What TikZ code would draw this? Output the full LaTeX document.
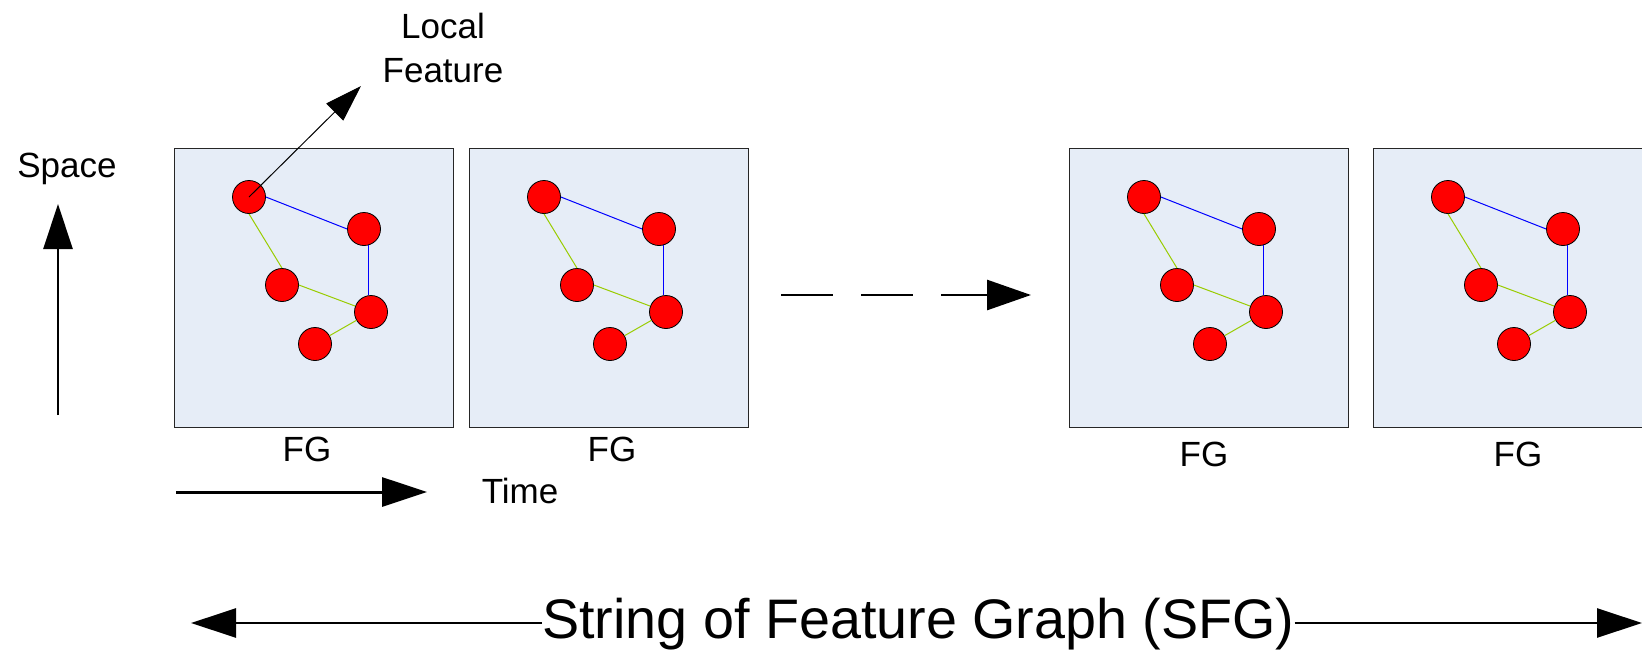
\documentclass[tikz,border=0pt]{standalone}
\usepackage{fontspec}
\setmainfont{Liberation Sans}
\usetikzlibrary{arrows.meta}
\definecolor{boxfill}{RGB}{230,237,247}
\definecolor{edgegreen}{RGB}{153,204,0}
\definecolor{edgeblue}{RGB}{0,0,255}
\definecolor{nodered}{RGB}{255,0,0}
\begin{document}
\begin{tikzpicture}[x=1pt,y=-1pt,
  fgbox/.style={draw=black!85, line width=1pt, fill=boxfill, minimum width=279pt, minimum height=279pt, inner sep=0pt, anchor=north west},
  feat/.style={circle, draw=black, line width=0.8pt, fill=nodered, minimum size=33pt, inner sep=0pt},
  blueedge/.style={draw=edgeblue, line width=1pt},
  greenedge/.style={draw=edgegreen, line width=1pt},
  lbl/.style={font=\fontsize{35pt}{44pt}\selectfont, inner sep=0pt, anchor=base},
  bigarrow/.style={line width=2.7pt, -{Triangle[length=45pt,width=29pt]}},
]
\useasboundingbox (0,0) rectangle (1642,651);

\foreach \i/\x/\fx/\fy in {1/174/307/461, 2/469/612/461, 3/1069/1204/466, 4/1373/1518/466}{
  \node[fgbox] (box\i) at (\x,148) {};
  \node[feat] (A\i) at (\x+75,197) {};
  \node[feat] (B\i) at (\x+190,229) {};
  \node[feat] (C\i) at (\x+108,285) {};
  \node[feat] (D\i) at (\x+197,312) {};
  \node[feat] (E\i) at (\x+141,344) {};
  \draw[blueedge] (A\i.east) -- (B\i.west);
  \path (B\i.south) ++(4,-0.5) coordinate (bd\i);
  \draw[blueedge] (bd\i) -- (bd\i |- D\i.north);
  \draw[greenedge] (A\i.south) -- (C\i.north);
  \draw[greenedge] (C\i.east) -- (D\i);
  \draw[greenedge] (E\i) -- (D\i);
  \node[lbl] (fg\i) at (\fx,\fy) {FG};
}

% local feature
\node[lbl, align=center] (lf) at (443,82) {Local\\Feature};
\coordinate (lftip) at (361,86);
\draw[line width=1pt, -{Triangle[length=37pt,width=24pt]}] (A1.center) -- (lftip);

% space
\node[lbl] (space) at (67,177) {Space};
\coordinate (sp0) at (58,415);
\coordinate (sp1) at (58,204);
\draw[bigarrow] (sp0) -- (sp1);

% time
\node[lbl] (time) at (520,503) {Time};
\coordinate (t0) at (176,492);
\coordinate (t1) at (427,492);
\draw[bigarrow, line width=3pt] (t0) -- (t1);

% dashed
\coordinate (d0) at (781,295);
\coordinate (d1) at (1031,295);
\draw[bigarrow, dash pattern=on 52pt off 28pt, -{Triangle[length=44pt,width=30pt]}] (d0) -- (d1);

% SFG
\node[font=\fontsize{55.7pt}{67pt}\selectfont, inner sep=0pt, anchor=base west] (sfg) at (542,638) {String of Feature Graph (SFG)};
\coordinate (sfgL) at (191,623);
\coordinate (sfgR) at (1642,623);
\draw[line width=2.5pt, -{Triangle[length=45pt,width=29pt]}] (sfg.west |- sfgL) -- (sfgL);
\draw[line width=2.5pt, -{Triangle[length=45pt,width=29pt]}] (sfg.east |- sfgR) -- (sfgR);
\end{tikzpicture}
\end{document}
